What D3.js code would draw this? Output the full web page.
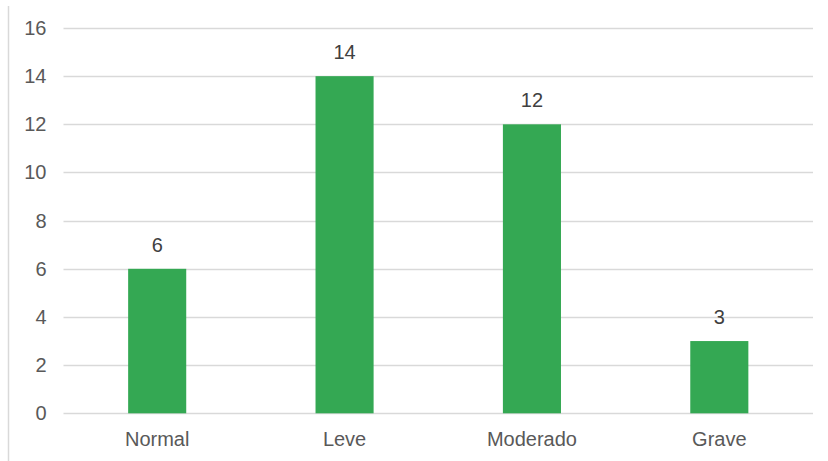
<!DOCTYPE html>
<html><head><meta charset="utf-8">
<script src="https://cdn.jsdelivr.net/npm/d3@7"></script>
<style>body{margin:0;background:#fff;} text{font-family:"Liberation Sans",Arial,sans-serif;}</style>
</head><body>
<svg id="c" width="828" height="461"></svg>
<script>
const categories = ["Normal","Leve","Moderado","Grave"];
const values = [6,14,12,3];
const yTicks = [0,2,4,6,8,10,12,14,16];

(function(){
const svg = d3.select("#c");
const mLeft = 63.5, mRight = 813, mTop = 28, mBottom = 413.3;
const x = d3.scaleBand().domain(categories).range([mLeft,mRight]).paddingInner(0.69).paddingOuter(0.345);
const y = d3.scaleLinear().domain([0,16]).range([mBottom,mTop]);
const fs = 20;

// frame line
svg.append("line").attr("x1",8.5).attr("x2",8.5).attr("y1",6).attr("y2",461)
  .attr("stroke","#d9d9d9").attr("stroke-width",1.5);

// grid
svg.append("g").selectAll("line").data(yTicks).join("line")
  .attr("x1",mLeft).attr("x2",mRight)
  .attr("y1",d=>Math.round(y(d))+0.5).attr("y2",d=>Math.round(y(d))+0.5)
  .attr("stroke","#d9d9d9").attr("stroke-width",1.5);

// y axis labels
const ya = svg.append("g").attr("transform",`translate(${mLeft},0)`)
  .call(d3.axisLeft(y).tickValues(yTicks).tickSize(0).tickPadding(17));
ya.select(".domain").remove();
ya.selectAll("text").attr("font-size",fs).attr("fill","#595959").attr("font-family","Liberation Sans, Arial, sans-serif");

// x axis labels
const xa = svg.append("g").attr("transform",`translate(0,${mBottom})`)
  .call(d3.axisBottom(x).tickSize(0).tickPadding(19));
xa.select(".domain").remove();
xa.selectAll("text").attr("font-size",fs).attr("fill","#595959").attr("font-family","Liberation Sans, Arial, sans-serif");

// bars
svg.append("g").selectAll("rect").data(values).join("rect")
  .attr("x",(d,i)=>x(categories[i])).attr("width",x.bandwidth())
  .attr("y",d=>y(d)).attr("height",d=>mBottom-y(d))
  .attr("fill","#34a853");

// value labels
svg.append("g").selectAll("text").data(values).join("text")
  .attr("x",(d,i)=>x(categories[i])+x.bandwidth()/2)
  .attr("y",d=>y(d)-17)
  .attr("text-anchor","middle").attr("font-size",fs).attr("fill","#404040")
  .text(d=>d);
})();
</script>
</body></html>
